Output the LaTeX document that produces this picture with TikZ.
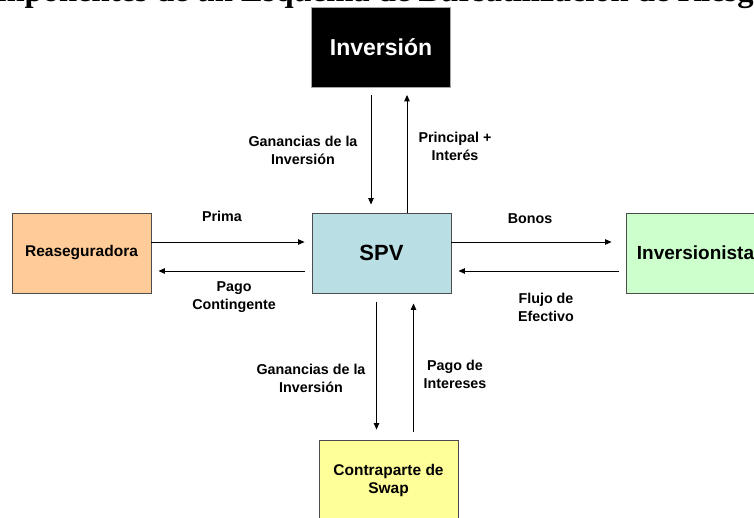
\documentclass[tikz,border=0pt]{standalone}
\usepackage{fontspec}
\setmainfont{Liberation Sans}
\newfontfamily\titlefont{Liberation Serif}
\usetikzlibrary{arrows.meta,calc}
\definecolor{peach}{RGB}{255,204,153}
\definecolor{spvblue}{RGB}{185,222,228}
\definecolor{lgreen}{RGB}{204,255,204}
\definecolor{lyellow}{RGB}{255,255,153}
\begin{document}
\begin{tikzpicture}[x=1pt,y=-1pt,
  box/.style={draw=black!70, line width=0.9pt, minimum width=139pt, minimum height=80pt,
    inner sep=0pt, font=\fontsize{15.5}{18}\selectfont\bfseries, align=center},
  lbl/.style={font=\fontsize{14.3}{18}\selectfont\bfseries, align=center, inner sep=0pt},
  arr/.style={-{Triangle[length=6.5pt,width=5.5pt]}, line width=0.9pt, draw=black}]
\useasboundingbox (0,0) rectangle (754,518);
\node[anchor=base west, inner sep=0pt, font=\titlefont\fontsize{32.6}{36}\selectfont\bfseries] (title) at (-42.5,1.5) {Componentes de un Esquema de Bursatilización de Riesgo};
\node[box, fill=black, draw=black!35, text=white, font=\fontsize{23}{25}\selectfont\bfseries] (inv) at (381,47.5) {Inversión};
\node[box, fill=peach] (rea) at (81.5,253) {Reaseguradora};
\node[box, fill=spvblue, font=\fontsize{22}{24}\selectfont\bfseries] (spv) at (381.5,253) {SPV};
\node[box, fill=lgreen, font=\fontsize{19}{21}\selectfont\bfseries] (invs) at (695.5,253) {Inversionista};
\node[box, fill=lyellow] (swap) at (388.5,480) {Contraparte de\\Swap};
% arrows
\draw[arr] ($(inv.south)+(-10,7)$) -- ($(spv.north)+(-10.5,-8)$);
\draw[arr] ($(spv.north)+(25.5,0)$) -- ($(inv.south)+(26,7)$);
\draw[arr] ($(rea.east)+(0,-11)$) -- ($(spv.west)+(-7,-11)$);
\draw[arr] ($(spv.west)+(-7,18)$) -- ($(rea.east)+(7,18)$);
\draw[arr] ($(spv.east)+(0,-11)$) -- ($(invs.west)+(-14,-11)$);
\draw[arr] ($(invs.west)+(-7,18)$) -- ($(spv.east)+(7,18)$);
\draw[arr] ($(spv.south)+(-5,9)$) -- ($(swap.north)+(-12,-10)$);
\draw[arr] ($(swap.north)+(25,-8)$) -- ($(spv.south)+(32,10)$);
% labels
\node[lbl] (l1) at (303,150) {Ganancias de la\\Inversión};
\node[lbl] (l2) at (455,146) {Principal +\\Interés};
\node[lbl] (l3) at (222,216) {Prima};
\node[lbl] (l4) at (234,297) {Pago\\Contingente};
\node[lbl] (l5) at (530,219) {Bonos};
\node[lbl] (l6) at (546,307) {Flujo de\\Efectivo};
\node[lbl] (l7) at (311,378) {Ganancias de la\\Inversión};
\node[lbl] (l8) at (455,374) {Pago de\\Intereses};
\end{tikzpicture}
\end{document}
